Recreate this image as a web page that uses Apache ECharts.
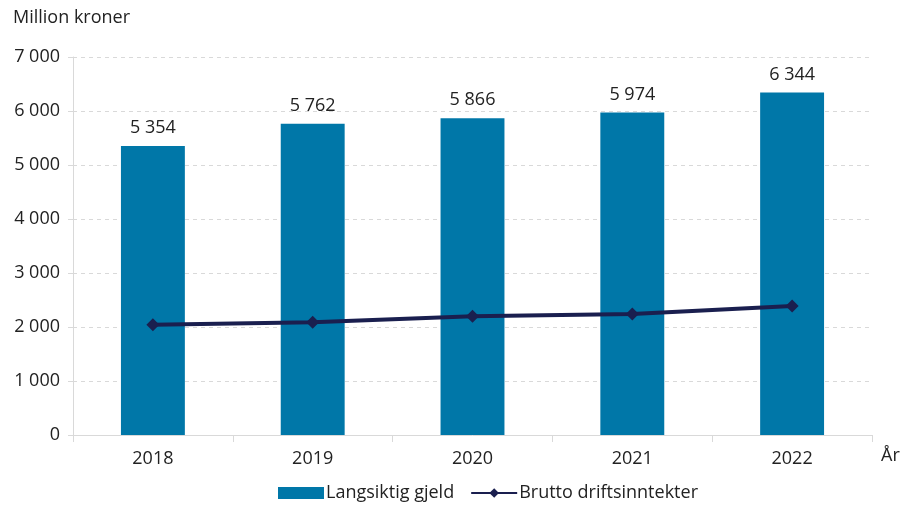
<!DOCTYPE html>
<html>
<head>
<meta charset="utf-8">
<title>Langsiktig gjeld</title>
<script src="https://cdn.jsdelivr.net/npm/echarts@6/dist/echarts.min.js"></script>
<style>
  html, body { margin: 0; padding: 0; background: #fff; }
  #chart { width: 903px; height: 505px; }
</style>
</head>
<body>
<div id="chart"></div>
<script>
var years = ['2018', '2019', '2020', '2021', '2022'];
var gjeld = [5354, 5762, 5866, 5974, 6344];
var drift = [2040, 2090, 2200, 2240, 2390];

function fmt(v) {
    // tusenskille med mellomrom
    return String(v).replace(/\B(?=(\d{3})+(?!\d))/g, ' ');
}

var chart = echarts.init(document.getElementById('chart'));
chart.setOption({
    animation: false,
    textStyle: { fontFamily: 'Open Sans' },
    title: {
        text: 'Million kroner',
        left: 8, top: 4,
        textStyle: { fontSize: 18, fontWeight: 'normal', color: '#222' }
    },
    legend: {
        bottom: -2,
        left: 273,
        itemGap: 16,
        itemWidth: 46,
        itemHeight: 12,
        textStyle: { fontSize: 18, color: '#222', padding: [0, 0, 0, -3] },
        data: [
            { name: 'Langsiktig gjeld', icon: 'rect' },
            { name: 'Brutto driftsinntekter' }
        ]
    },
    grid: { left: 73, right: 31, top: 57, bottom: 70 },
    xAxis: {
        type: 'category',
        data: years,
        name: 'År',
        nameLocation: 'end',
        nameGap: 9,
        nameTextStyle: { fontSize: 18, color: '#222', verticalAlign: 'top', padding: [12, 0, 0, 0] },
        axisLine: { lineStyle: { color: '#d9d9d9' } },
        axisTick: { show: true, alignWithLabel: false, length: 7, lineStyle: { color: '#d9d9d9' } },
        axisLabel: { fontSize: 18, color: '#222', margin: 15 }
    },
    yAxis: {
        type: 'value',
        min: 0, max: 7000, interval: 1000,
        axisLine: { show: true, lineStyle: { color: '#d9d9d9' } },
        axisTick: { show: true, length: 5, lineStyle: { color: '#d9d9d9' } },
        axisLabel: { fontSize: 18, color: '#222', margin: 13, formatter: fmt },
        splitLine: { lineStyle: { color: '#d9d9d9', type: [4, 4] } }
    },
    series: [
        {
            name: 'Langsiktig gjeld',
            type: 'bar',
            data: gjeld,
            barWidth: '40%',
            itemStyle: { color: '#0077a8' },
            label: {
                show: true, position: 'top', distance: 9,
                fontSize: 18, color: '#222',
                formatter: function (p) { return fmt(p.value); }
            }
        },
        {
            name: 'Brutto driftsinntekter',
            type: 'line',
            data: drift,
            symbol: 'diamond',
            symbolSize: 13,
            lineStyle: { color: '#1a1f4f', width: 4 },
            itemStyle: { color: '#1a1f4f' }
        }
    ]
});
</script>
</body>
</html>
